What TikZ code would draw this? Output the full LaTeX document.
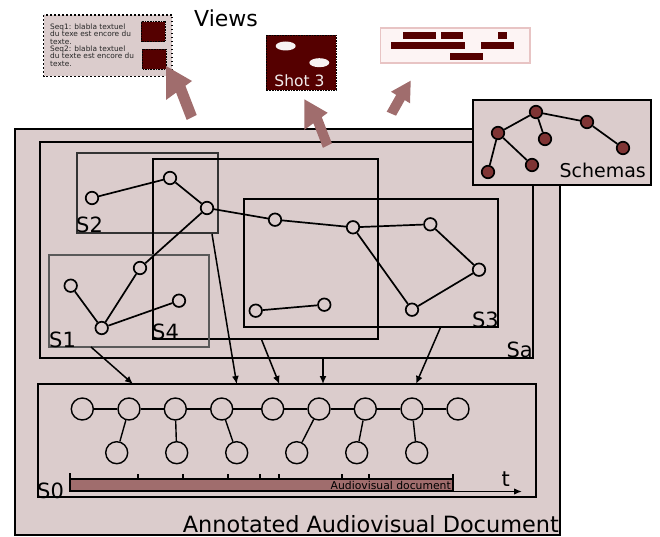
\documentclass[tikz,border=0pt]{standalone}
\usepackage{fontspec}
\setmainfont{DejaVu Sans}
\usetikzlibrary{arrows.meta,calc}
\definecolor{docbg}{HTML}{DBCCCC}
\definecolor{deepred}{HTML}{550000}
\definecolor{viewarrow}{HTML}{A06D6D}
\definecolor{schemred}{HTML}{7F3434}
\definecolor{paleview}{HTML}{FDF4F4}
\definecolor{paleedge}{HTML}{E8C4C4}
\begin{document}
\begin{tikzpicture}[x=1pt,y=-1pt,
  seg/.style={circle,draw,line width=1.7pt,fill=docbg,minimum size=12.5pt,inner sep=0pt},
  schem/.style={circle,draw,line width=1.7pt,fill=schemred,minimum size=12.5pt,inner sep=0pt},
  tl/.style={circle,draw,line width=1.4pt,fill=docbg,minimum size=22pt,inner sep=0pt},
  link/.style={line width=1.7pt},
  tlink/.style={line width=1.4pt},
  flow/.style={line width=1.5pt,-{Latex[length=8pt,width=7pt]}},
  lbl/.style={inner sep=0pt,font=\fontsize{21}{25}\selectfont},
  darksq/.style={fill=deepred,draw=black,line width=0.6pt,dash pattern=on 0.8pt off 0.8pt},
  bar/.style={fill=deepred}
]
\useasboundingbox (0,0) rectangle (660,537);

% ---------- document frame ----------
\draw[line width=2.5pt,fill=docbg] (15,129) rectangle (560,535);
\node[inner sep=0pt,font=\fontsize{22.4}{26}\selectfont,anchor=base east] (doclabel) at (559,532.5) {Annotated Audiovisual Document};

% ---------- segment boxes ----------
\draw[line width=1.6pt] (40,142) rectangle (533,358);
\draw[line width=1.2pt,draw=black!80] (77,153) rectangle (218,233);
\draw[line width=1.6pt] (153,159) rectangle (378,339);
\draw[line width=1.6pt,draw=black!65] (49,255) rectangle (209,347);
\draw[line width=1.6pt] (244,199) rectangle (498,327);

\node[lbl,anchor=base west] (lS2) at (76,233) {S2};
\node[lbl,anchor=base west] (lS1) at (49,347) {S1};
\node[lbl,anchor=base west] (lS4) at (152,339) {S4};
\node[lbl,anchor=base east] (lS3) at (499,327) {S3};
\node[lbl,anchor=base east] (lSa) at (533,357) {Sa};

% ---------- annotation graph ----------
\node[seg] (n1) at (92,198) {};
\node[seg] (n2) at (170,178) {};
\node[seg] (n3) at (207,208) {};
\node[seg] (n4) at (140,268) {};
\node[seg] (n5) at (70.7,285.7) {};
\node[seg] (n6) at (101.7,328) {};
\node[seg] (n7) at (179,300.7) {};
\node[seg] (n8) at (275,219.7) {};
\node[seg] (n9) at (353,227.3) {};
\node[seg] (n10) at (430.3,224.3) {};
\node[seg] (n11) at (479,269.7) {};
\node[seg] (n12) at (412,309.7) {};
\node[seg] (n13) at (255.7,310.7) {};
\node[seg] (n14) at (324.3,304.7) {};

\draw[link] (n1) -- (n2);
\draw[link] (n2) -- (n3);
\draw[link] (n3) -- (n8);
\draw[link] (n3) -- (n4);
\draw[link] (n4) -- (n6);
\draw[link] (n5) -- (n6);
\draw[link] (n6) -- (n7);
\draw[link] (n8) -- (n9);
\draw[link] (n9) -- (n10);
\draw[link] (n10) -- (n11);
\draw[link] (n11) -- (n12);
\draw[link] (n9) -- (n12);
\draw[link] (n13) -- (n14);

% ---------- schemas ----------
\draw[line width=1.6pt,fill=docbg] (473,100) rectangle (651,185);
\node[inner sep=0pt,font=\fontsize{19}{23}\selectfont,anchor=base east] (lSch) at (646,178) {Schemas};
\node[schem] (ka) at (536,112) {};
\node[schem] (kb) at (498,133) {};
\node[schem] (kc) at (545,139) {};
\node[schem] (kd) at (587,122) {};
\node[schem] (ke) at (623,148) {};
\node[schem] (kf) at (532,165) {};
\node[schem] (kg) at (488,172) {};
\draw[link] (ka) -- (kb);
\draw[link] (ka) -- (kc);
\draw[link] (ka) -- (kd);
\draw[link] (kd) -- (ke);
\draw[link] (kb) -- (kf);
\draw[link] (kb) -- (kg);

% ---------- S0: the audiovisual stream ----------
\draw[line width=2pt] (38,384) rectangle (536,497);
\node[lbl,anchor=base west] (lS0) at (37,498) {S0};

\node[tl] (c1) at (82.3,409) {};
\node[tl] (c2) at (129,409) {};
\node[tl] (c3) at (175.3,409) {};
\node[tl] (c4) at (221.7,409) {};
\node[tl] (c5) at (272.7,409) {};
\node[tl] (c6) at (319,409) {};
\node[tl] (c7) at (365.3,409) {};
\node[tl] (c8) at (412,409) {};
\node[tl] (c9) at (458,409) {};
\node[tl] (b1) at (116.7,452.7) {};
\node[tl] (b2) at (176.7,452.7) {};
\node[tl] (b3) at (236.7,452.7) {};
\node[tl] (b4) at (296.7,452.7) {};
\node[tl] (b5) at (356.7,452.7) {};
\node[tl] (b6) at (416.7,452.7) {};
\foreach \a/\b in {c1/c2,c2/c3,c3/c4,c4/c5,c5/c6,c6/c7,c7/c8,c8/c9,
                   b1/c2,b2/c3,b3/c4,b4/c6,b5/c7,b6/c8}
  \draw[tlink] (\a) -- (\b);

% timeline bar with ticks and time axis
\draw[line width=1.6pt,fill=viewarrow] (70,479) rectangle (453,491);
\foreach \x in {138,183,228,260,279,342,369}
  \draw[line width=1.4pt] (\x,474) -- (\x,479);
\draw[line width=2pt] (69.5,473) -- (69.5,491.5);
\draw[line width=1.6pt] (453,474) -- (453,491);
\coordinate (t0) at (70,491.5);
\coordinate (t1) at (522,491.5);
\draw[line width=1.4pt,-{Latex[length=8pt,width=6.5pt]}] (t0) -- (t1);
\node[lbl,anchor=base west] (lt) at (501.5,486) {t};
\node[inner sep=0pt,font=\fontsize{10.8}{12}\selectfont,anchor=base east] (avlabel) at (451,489.5) {Audiovisual document};

% ---------- links from segments to the stream ----------
\coordinate (o1) at (91,347);
\coordinate (o2) at (212,234);
\coordinate (o3) at (261.7,340);
\coordinate (o4) at (323,358);
\coordinate (o5) at (440.7,327);
\coordinate (i1) at (133,384);
\coordinate (i2) at (236.7,384);
\coordinate (i3) at (279.3,384);
\coordinate (i4) at (323,384);
\coordinate (i5) at (416,384);
\draw[flow] (o1) -- (i1);
\draw[flow] (o2) -- (i2);
\draw[flow] (o3) -- (i3);
\draw[flow] (o4) -- (i4);
\draw[flow] (o5) -- (i5);

% ---------- views ----------
\node[lbl,anchor=base west,font=\fontsize{22}{26}\selectfont] (lViews) at (194,26.5) {Views};

% textual view
\draw[fill=docbg,line width=1.8pt,dash pattern=on 1.8pt off 2.2pt] (43.5,15) rectangle (172,76.5);
\node[inner sep=0pt,anchor=north west,align=left,text=black!85,
      font=\fontsize{7.4}{7.4}\selectfont] (seqtext) at (50,23.5)
  {Seq1: blabla textuel\\du texe est encore du\\texte.\\Seq2: blabla textuel\\du texte est encore du\\texte.};
\draw[darksq] (141,21.7) rectangle (165,41.7);
\draw[darksq] (142.3,49) rectangle (166,69);

% shot view
\draw[fill=deepred,draw=black,line width=0.6pt,dash pattern=on 0.8pt off 0.8pt] (266,35) rectangle (336,90);
\fill[white!95!deepred] (285.7,46) ellipse [x radius=10,y radius=4.5];
\fill[white!95!deepred] (319.3,62.7) ellipse [x radius=10,y radius=4.5];
\node[inner sep=0pt,text=white!92!deepred,font=\fontsize{15.5}{18}\selectfont,anchor=base] (shot) at (299.5,87) {Shot 3};

% transcript view
\draw[fill=paleview,draw=paleedge,line width=1.3pt] (380.5,28) rectangle (530,63);
\fill[bar] (403,32) rectangle (436,39);
\fill[bar] (441,32) rectangle (463,39);
\fill[bar] (498,32) rectangle (507,39);
\fill[bar] (391,42.5) rectangle (465,49.5);
\fill[bar] (481,42.5) rectangle (514,49.5);
\fill[bar] (450,53) rectangle (483,60);

% projection arrows towards the views
\fill[viewarrow] (166,66) -- (192,81) -- (185.4,85.8) -- (196.7,115) -- (186.7,120)
  -- (176.1,92.6) -- (166,100) -- cycle;
\begin{scope}[shift={(304.3,99.3)},scale=0.9]
\fill[viewarrow] (0,0) -- (26,15) -- (19.4,19.8) -- (30.7,49) -- (20.7,54)
  -- (10.1,26.6) -- (0,34) -- cycle;
\end{scope}
\fill[viewarrow] (410.7,80.7) -- (410,103.3) -- (404.8,100.1) -- (396,115.7)
  -- (386.7,111.7) -- (396.2,94.9) -- (391,91.7) -- cycle;
\end{tikzpicture}
\end{document}
